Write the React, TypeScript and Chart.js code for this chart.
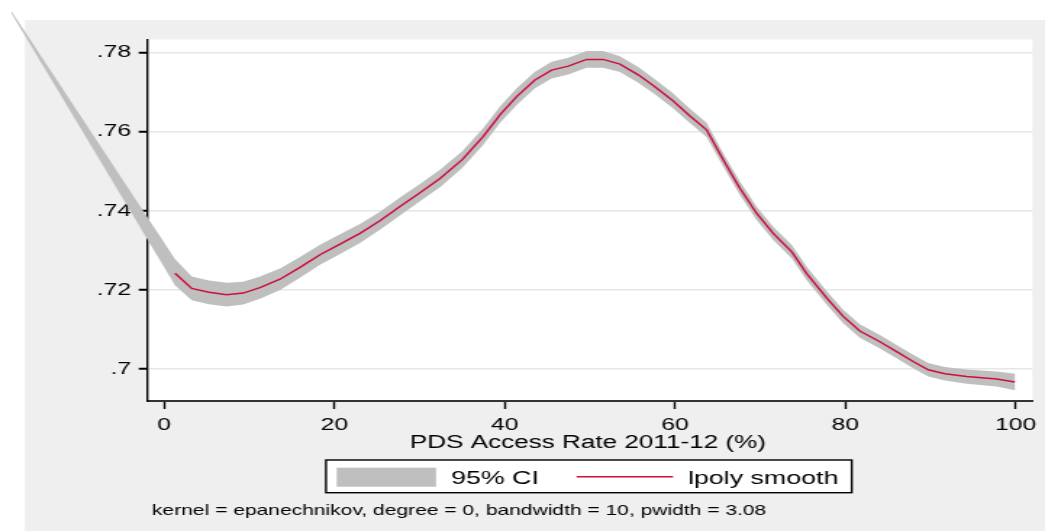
import React, { useEffect, useRef } from 'react';
import { Chart, registerables } from 'chart.js';

Chart.register(...registerables);

// The reference image is horizontally stretched; draw on a narrower canvas and stretch it with CSS.
const OUT_W = 1045;
const OUT_H = 531;
const CANVAS_W = 721;
const S = OUT_W / CANVAS_W;

// ---- data ----
const lineX = [1.29, 3.25, 5.28, 7.36, 9.31, 11.27, 13.62, 15.97, 18.32, 20.67, 23.01, 25.36, 27.71, 30.06, 32.41, 34.99, 37.45, 39.45, 41.41, 43.56, 45.52, 47.47, 49.63, 51.58, 53.54, 55.69, 57.65, 59.8, 61.76, 63.72, 65.67, 67.63, 69.59, 71.54, 73.7, 75.46, 77.81, 79.76, 81.72, 84.07, 86.03, 87.98, 89.74, 91.7, 94.25, 97.77, 99.92];
const lineY = [0.7242, 0.7204, 0.7194, 0.7188, 0.7192, 0.7206, 0.7227, 0.7257, 0.7289, 0.7316, 0.7343, 0.7375, 0.7411, 0.7446, 0.7482, 0.7529, 0.7587, 0.7643, 0.7689, 0.7731, 0.7756, 0.7766, 0.7783, 0.7783, 0.7771, 0.7744, 0.7714, 0.7678, 0.764, 0.7605, 0.7529, 0.7457, 0.7394, 0.7343, 0.7297, 0.7242, 0.718, 0.7133, 0.7096, 0.7069, 0.7044, 0.7019, 0.6998, 0.6988, 0.6981, 0.6975, 0.6967];

const ciX = [-17.9, 1.29, 3.25, 5.28, 7.36, 9.31, 11.27, 13.62, 15.97, 18.32, 20.67, 23.01, 25.36, 27.71, 30.06, 32.41, 34.99, 37.45, 39.45, 41.41, 43.56, 45.52, 47.47, 49.63, 51.58, 53.54, 55.69, 57.65, 59.8, 61.76, 63.72, 65.67, 67.63, 69.59, 71.54, 73.7, 75.46, 77.81, 79.76, 81.72, 84.07, 86.03, 87.98, 89.74, 91.7, 94.25, 97.77, 99.92];
const ciUpper = [0.7904, 0.7278, 0.7234, 0.7224, 0.7218, 0.7221, 0.7234, 0.7254, 0.7283, 0.7314, 0.7341, 0.7367, 0.7398, 0.7434, 0.7468, 0.7504, 0.755, 0.7608, 0.7664, 0.771, 0.7752, 0.7777, 0.7787, 0.7804, 0.7804, 0.7791, 0.7764, 0.7733, 0.7697, 0.7658, 0.7623, 0.7546, 0.7474, 0.7411, 0.736, 0.7314, 0.7259, 0.7197, 0.715, 0.7113, 0.7086, 0.7061, 0.7036, 0.7015, 0.7005, 0.6999, 0.6994, 0.6988];
const ciLower = [0.7899, 0.7212, 0.7174, 0.7164, 0.7158, 0.7163, 0.7178, 0.72, 0.7231, 0.7264, 0.7291, 0.7319, 0.7352, 0.7388, 0.7424, 0.746, 0.7508, 0.7566, 0.7622, 0.7668, 0.771, 0.7735, 0.7745, 0.7762, 0.7762, 0.7751, 0.7724, 0.7695, 0.7659, 0.7622, 0.7587, 0.7512, 0.744, 0.7377, 0.7326, 0.728, 0.7225, 0.7163, 0.7116, 0.7079, 0.7052, 0.7027, 0.7002, 0.6981, 0.6971, 0.6963, 0.6956, 0.6946];

const xTicks = [0, 20, 40, 60, 80, 100];
const xTickLabels = ['0', '20', '40', '60', '80', '100'];
const yTicks = [0.7, 0.72, 0.74, 0.76, 0.78];
const yTickLabels = ['.7', '.72', '.74', '.76', '.78'];
const legendLabels = ['95% CI', 'lpoly smooth'];
const xTitle = 'PDS Access Rate 2011-12 (%)';
const noteText = 'kernel = epanechnikov, degree = 0, bandwidth = 10, pwidth = 3.08';

const FONT = '"Liberation Sans", Arial, Helvetica, sans-serif';
const RED = '#cc1040';
const BAND = '#bfbfbf';
const BG = '#efefef';

const bgPlugin = {
  id: 'stataBackground',
  beforeDraw(chart: any) {
    const { ctx, chartArea, width, height } = chart;
    ctx.save();
    ctx.fillStyle = '#ffffff';
    ctx.fillRect(0, 0, width, height);
    ctx.fillStyle = BG;
    ctx.fillRect(25 / S, 20, width, height);
    ctx.fillStyle = '#ffffff';
    ctx.fillRect(chartArea.left, chartArea.top, chartArea.right - chartArea.left, chartArea.bottom - chartArea.top);
    ctx.restore();
  },
};

const bandPlugin = {
  id: 'ciBand',
  beforeDatasetsDraw(chart: any) {
    const { ctx } = chart;
    const xs = chart.scales.x;
    const ys = chart.scales.y;
    ctx.save();
    ctx.beginPath();
    ciX.forEach((v, i) => {
      const px = xs.getPixelForValue(v);
      const py = ys.getPixelForValue(ciUpper[i]);
      if (i === 0) ctx.moveTo(px, py);
      else ctx.lineTo(px, py);
    });
    for (let i = ciX.length - 1; i >= 0; i--) {
      ctx.lineTo(xs.getPixelForValue(ciX[i]), ys.getPixelForValue(ciLower[i]));
    }
    ctx.closePath();
    ctx.fillStyle = BAND;
    ctx.fill();
    ctx.restore();
  },
};

const decorPlugin = {
  id: 'stataDecor',
  afterDraw(chart: any) {
    const { ctx, chartArea } = chart;
    ctx.save();
    // x axis title
    ctx.fillStyle = '#000';
    ctx.textBaseline = 'alphabetic';
    ctx.textAlign = 'center';
    ctx.font = `18px ${FONT}`;
    ctx.fillText(xTitle, (chartArea.left + chartArea.right) / 2 - 1.5, 448.3);

    // legend box
    const lx = 326 / S;
    const lw = (851.7 - 326) / S;
    ctx.fillStyle = '#fff';
    ctx.fillRect(lx, 460, lw, 32.7);
    ctx.strokeStyle = '#000';
    ctx.lineWidth = 1.4;
    ctx.strokeRect(lx, 460, lw, 32.7);

    ctx.fillStyle = BAND;
    ctx.fillRect(336.7 / S, 467.7, (436 - 336.7) / S, 19);

    ctx.strokeStyle = RED;
    ctx.lineWidth = 1.5;
    ctx.beginPath();
    ctx.moveTo(576.7 / S, 476.7);
    ctx.lineTo(673 / S, 476.7);
    ctx.stroke();

    ctx.fillStyle = '#000';
    ctx.textAlign = 'left';
    ctx.font = `18.5px ${FONT}`;
    ctx.fillText(legendLabels[0], 451 / S, 484.3);
    ctx.fillText(legendLabels[1], 688 / S, 484.3);

    // note
    ctx.font = `14.5px ${FONT}`;
    ctx.fillText(noteText, 152 / S, 515);
    ctx.restore();
  },
};

export default function App() {
  const canvasRef = useRef<HTMLCanvasElement | null>(null);

  useEffect(() => {
    const canvas = canvasRef.current;
    if (!canvas) return;
    const chart = new Chart(canvas, {
      type: 'line',
      data: {
        datasets: [
          {
            label: legendLabels[1],
            data: lineX.map((x, i) => ({ x, y: lineY[i] })),
            borderColor: RED,
            borderWidth: 1.5,
            pointRadius: 0,
            tension: 0,
            fill: false,
          },
        ],
      },
      options: {
        animation: false,
        responsive: false,
        devicePixelRatio: 1,
        layout: { padding: { left: 0, right: 8.5, top: 39.5, bottom: 70 } },
        plugins: {
          legend: { display: false },
          tooltip: { enabled: false },
        },
        scales: {
          x: {
            type: 'linear',
            min: -1.914,
            max: 101.99,
            afterBuildTicks: (s: any) => {
              s.ticks = xTicks.map((v) => ({ value: v }));
            },
            afterFit: (s: any) => {
              s.height = 60;
            },
            ticks: {
              autoSkip: false,
              maxRotation: 0,
              padding: 6,
              color: '#000',
              font: { family: FONT, size: 17 },
              callback: (v: any) => xTickLabels[xTicks.indexOf(Number(v))] ?? '',
            },
            grid: {
              drawOnChartArea: false,
              drawTicks: true,
              tickLength: 8,
              tickWidth: 1.4,
              tickColor: '#000',
            },
            border: { display: true, color: '#333', width: 2 },
          },
          y: {
            type: 'linear',
            min: 0.69191,
            max: 0.78334,
            afterBuildTicks: (s: any) => {
              s.ticks = yTicks.map((v) => ({ value: v }));
            },
            afterFit: (s: any) => {
              s.width = 101.9;
            },
            ticks: {
              padding: 5.3,
              color: '#000',
              font: { family: FONT, size: 17 },
              callback: (v: any) => {
                const idx = yTicks.findIndex((t) => Math.abs(t - Number(v)) < 1e-9);
                return idx >= 0 ? yTickLabels[idx] : '';
              },
            },
            grid: {
              color: '#e6e6e6',
              lineWidth: 1.5,
              drawTicks: true,
              tickLength: 6.2,
              tickWidth: 2,
              tickColor: '#000',
            },
            border: { display: true, color: '#000', width: 1.4 },
          },
        },
      },
      plugins: [bgPlugin, bandPlugin, decorPlugin],
    } as any);
    return () => chart.destroy();
  }, []);

  return (
    <div style={{ position: 'absolute', left: 0, top: 0, width: OUT_W, height: OUT_H }}>
      <canvas
        ref={canvasRef}
        width={CANVAS_W}
        height={OUT_H}
        style={{ width: `${OUT_W}px`, height: `${OUT_H}px`, display: 'block' }}
      />
    </div>
  );
}
